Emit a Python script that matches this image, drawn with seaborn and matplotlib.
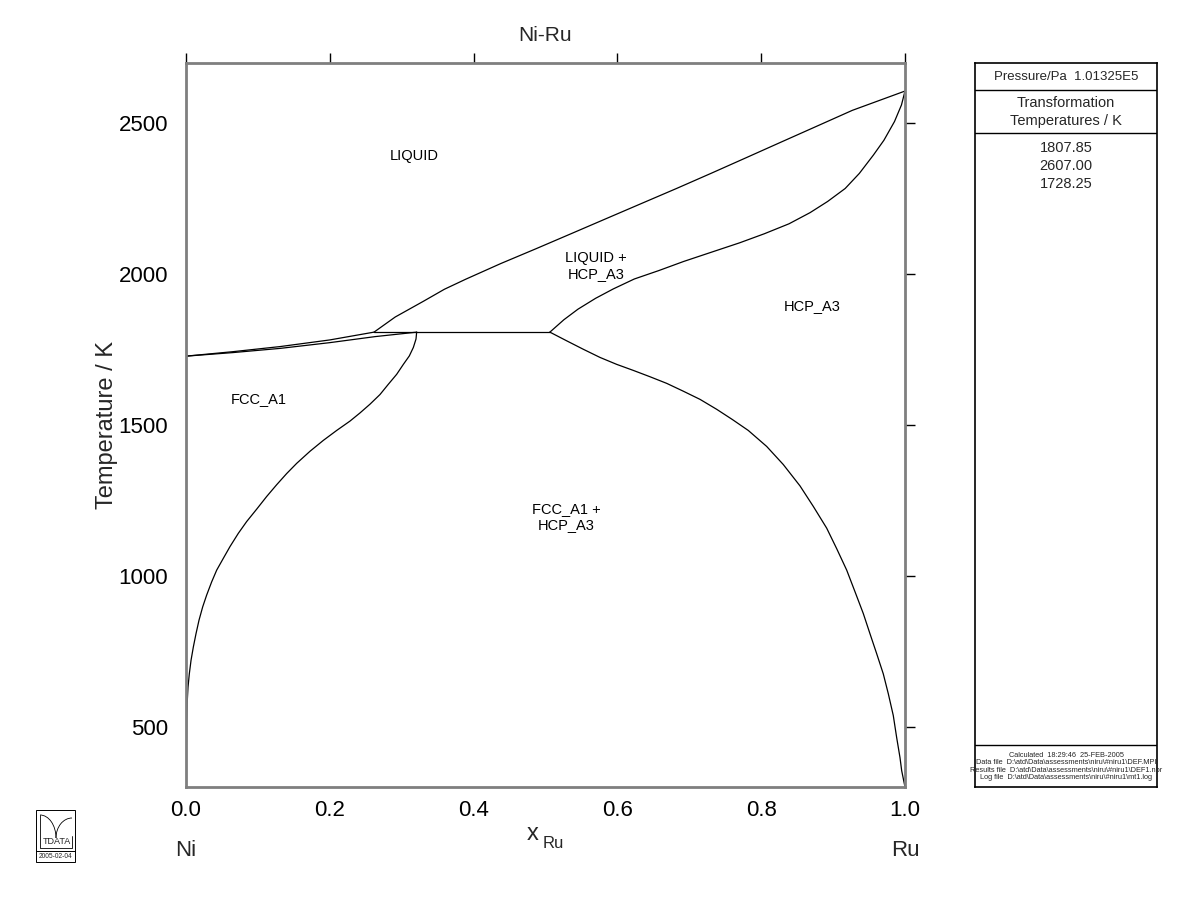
import matplotlib
matplotlib.use("Agg")
import matplotlib.pyplot as plt
import seaborn as sns
import pandas as pd
from matplotlib.patches import Rectangle, Arc

# ---------------- data ----------------
liq_fcc_x = [0.0, 0.065, 0.131, 0.200, 0.2615]
liq_fcc_T = [1728.25, 1743, 1760, 1782, 1807.85]

sol_fcc_x = [0.0, 0.065, 0.131, 0.200, 0.263, 0.321]
sol_fcc_T = [1728.25, 1740, 1754, 1773, 1793, 1807.85]

perit_x = [0.2615, 0.5061]
perit_T = [1807.85, 1807.85]

liq_hcp_x = [0.2615, 0.2910, 0.3301, 0.3594, 0.3888, 0.4376, 0.4865, 0.5355, 0.5843,
             0.6332, 0.6822, 0.7310, 0.7800, 0.8288, 0.8778, 0.9267, 1.0]
liq_hcp_T = [1807.85, 1858, 1910, 1950, 1983, 2035, 2084, 2134, 2184,
             2234, 2284, 2335, 2387, 2439, 2491, 2543, 2607.0]

sol_hcp_x = [0.5061, 0.5256, 0.5452, 0.5697, 0.5942, 0.6235, 0.6577, 0.6920, 0.7310,
             0.7701, 0.8044, 0.8387, 0.8680, 0.8924, 0.9168, 0.9365, 0.9561, 0.9707,
             0.9854, 0.9951, 1.0]
sol_hcp_T = [1807.85, 1849, 1884, 1920, 1951, 1984, 2012, 2042, 2073,
             2104, 2134, 2167, 2204, 2241, 2284, 2334, 2395, 2444,
             2506, 2561, 2607.0]

fcc_solvus_x = [0.3208, 0.3199, 0.3162, 0.3106, 0.3023, 0.2930, 0.2814, 0.2698, 0.2559,
                0.2420, 0.2281, 0.2096, 0.1910, 0.1725, 0.1540, 0.1400, 0.1261, 0.1122,
                0.0983, 0.0844, 0.0728, 0.0612, 0.0519, 0.0427, 0.0357, 0.0287, 0.0232,
                0.0181, 0.0139, 0.0102, 0.0070, 0.0046, 0.0028, 0.0018, 0.0009, 0.0]
fcc_solvus_T = [1807.85, 1785, 1757, 1729, 1701, 1668, 1635, 1601, 1569,
                1540, 1513, 1482, 1449, 1413, 1373, 1339, 1302, 1263,
                1221, 1180, 1141, 1097, 1058, 1019, 980, 936, 897,
                853, 808, 764, 720, 675, 631, 587, 520, 300]

hcp_solvus_x = [0.5061, 0.5295, 0.5526, 0.5758, 0.5990, 0.6221, 0.6453, 0.6686, 0.6917,
                0.7149, 0.7381, 0.7600, 0.7820, 0.8076, 0.8307, 0.8540, 0.8725, 0.8911,
                0.9050, 0.9189, 0.9305, 0.9420, 0.9513, 0.9606, 0.9698, 0.9768, 0.9837,
                0.9884, 0.9930, 0.9954, 1.0]
hcp_solvus_T = [1807.85, 1779, 1751, 1724, 1701, 1681, 1660, 1638, 1612,
                1585, 1552, 1518, 1482, 1429, 1369, 1298, 1230, 1158,
                1090, 1019, 947, 875, 808, 742, 675, 609, 537,
                464, 398, 354, 300]

region_labels = ["LIQUID", "LIQUID +\nHCP_A3", "HCP_A3", "FCC_A1", "FCC_A1 +\nHCP_A3"]
region_x = [0.317, 0.570, 0.871, 0.1015, 0.5285]
region_T = [2393, 2027, 1894, 1585, 1195]

x_ticks = [0.0, 0.2, 0.4, 0.6, 0.8, 1.0]
y_ticks = [500, 1000, 1500, 2000, 2500]
transformation_temps = ["1807.85", "2607.00", "1728.25"]
info_lines = ["Calculated  18:29:46  25-FEB-2005",
              "Data file  D:\\atd\\Data\\assessments\\niru\\#niru1\\DEF.MPI",
              "Results file  D:\\atd\\Data\\assessments\\niru\\#niru1\\DEF1.nbr",
              "Log file  D:\\atd\\Data\\assessments\\niru\\#niru1\\mt1.log"]

curves = {
    "liq_fcc": (liq_fcc_x, liq_fcc_T),
    "sol_fcc": (sol_fcc_x, sol_fcc_T),
    "perit": (perit_x, perit_T),
    "liq_hcp": (liq_hcp_x, liq_hcp_T),
    "sol_hcp": (sol_hcp_x, sol_hcp_T),
    "fcc_solvus": (fcc_solvus_x, fcc_solvus_T),
    "hcp_solvus": (hcp_solvus_x, hcp_solvus_T),
}

# ---------------- style ----------------
sns.set_theme(style="white")
plt.rcParams['font.family'] = ['Liberation Sans', 'DejaVu Sans']

W, H = 1200, 923
fig = plt.figure(figsize=(W / 100, H / 100), dpi=100)
fig.patch.set_facecolor("white")

def fx(px):
    return px / W

def fy(py):
    return 1 - py / H

ax = fig.add_axes([fx(186), fy(787), fx(905) - fx(186), fy(63) - fy(787)])

for name, (xs, ts) in curves.items():
    df = pd.DataFrame({"x": xs, "T": ts})
    sns.lineplot(data=df, x="x", y="T", sort=False, estimator=None,
                 color="black", lw=0.9, ax=ax)

ax.set_xlim(0, 1)
ax.set_ylim(300, 2700)
ax.set_xticks(x_ticks)
ax.set_xticklabels([f"{v:.1f}" for v in x_ticks])
ax.set_yticks(y_ticks)
ax.tick_params(axis="both", which="both", direction="out", length=7, width=1,
               color="black", labelsize=16, labelcolor="black",
               top=True, right=True, labeltop=False, labelright=False, pad=6)
ax.tick_params(axis="x", pad=2)
for s in ax.spines.values():
    s.set_color("#7f7f7f")
    s.set_linewidth(2)
    s.set_visible(True)
ax.set_xlabel("")
ax.set_ylabel("Temperature / K", fontsize=17, labelpad=0)
ax.set_title("Ni-Ru", fontsize=15, pad=16)
ax.set_facecolor("white")

for lab, x, t in zip(region_labels, region_x, region_T):
    ax.text(x, t, lab, ha="center", va="center", fontsize=10.5, color="black",
            linespacing=1.2)

# x-axis labels below
fig.text(fx(186), fy(851), "Ni", ha="center", va="center", fontsize=16)
fig.text(fx(905), fy(851), "Ru", ha="center", va="center", fontsize=16)
fig.text(fx(533), fy(834), "x", ha="center", va="center", fontsize=17)
fig.text(fx(553), fy(844), "Ru", ha="center", va="center", fontsize=12)

# ---------------- right info panel ----------------
pax = fig.add_axes([fx(975), fy(787), fx(1157) - fx(975), fy(63) - fy(787)])
pax.set_xlim(0, 1)
pax.set_ylim(787, 63)
pax.set_xticks([])
pax.set_yticks([])
for s in pax.spines.values():
    s.set_color("black")
    s.set_linewidth(1.2)
    s.set_visible(True)
for yy in [90, 133, 745]:
    pax.axhline(yy, color="black", lw=1.0)
pax.text(0.5, 76.5, "Pressure/Pa  1.01325E5", ha="center", va="center", fontsize=9.5)
pax.text(0.5, 103, "Transformation", ha="center", va="center", fontsize=10.5)
pax.text(0.5, 121, "Temperatures / K", ha="center", va="center", fontsize=10.5)
for i, t in enumerate(transformation_temps):
    pax.text(0.5, 148 + 18 * i, t, ha="center", va="center", fontsize=10.5)
for i, t in enumerate(info_lines):
    pax.text(0.5, 755 + 7.5 * i, t, ha="center", va="center", fontsize=5.3,
             clip_on=False)

# ---------------- logo ----------------
lax = fig.add_axes([0, 0, 1, 1], facecolor="none")
lax.set_xlim(0, W)
lax.set_ylim(H, 0)
lax.axis("off")
lax.add_patch(Rectangle((36, 810), 39, 52, fill=False, ec="black", lw=0.7, clip_on=False))
lax.plot([36, 75], [851, 851], color="black", lw=0.7, clip_on=False)
lax.text(55.5, 856.5, "2005-02-04", ha="center", va="center", fontsize=4.8)
lax.text(57, 842, "TDATA", ha="center", va="center", fontsize=6.5)
lax.plot([40, 40, 72, 72], [815, 848, 848, 836], color="black", lw=0.6, clip_on=False)
lax.add_patch(Arc((40, 838), 32, 46, theta1=270, theta2=360, color="black", lw=0.6,
                  clip_on=False))
lax.add_patch(Arc((72, 838), 32, 40, theta1=180, theta2=270, color="black", lw=0.6,
                  clip_on=False))

fig.savefig("out.png", dpi=100, facecolor="white")
